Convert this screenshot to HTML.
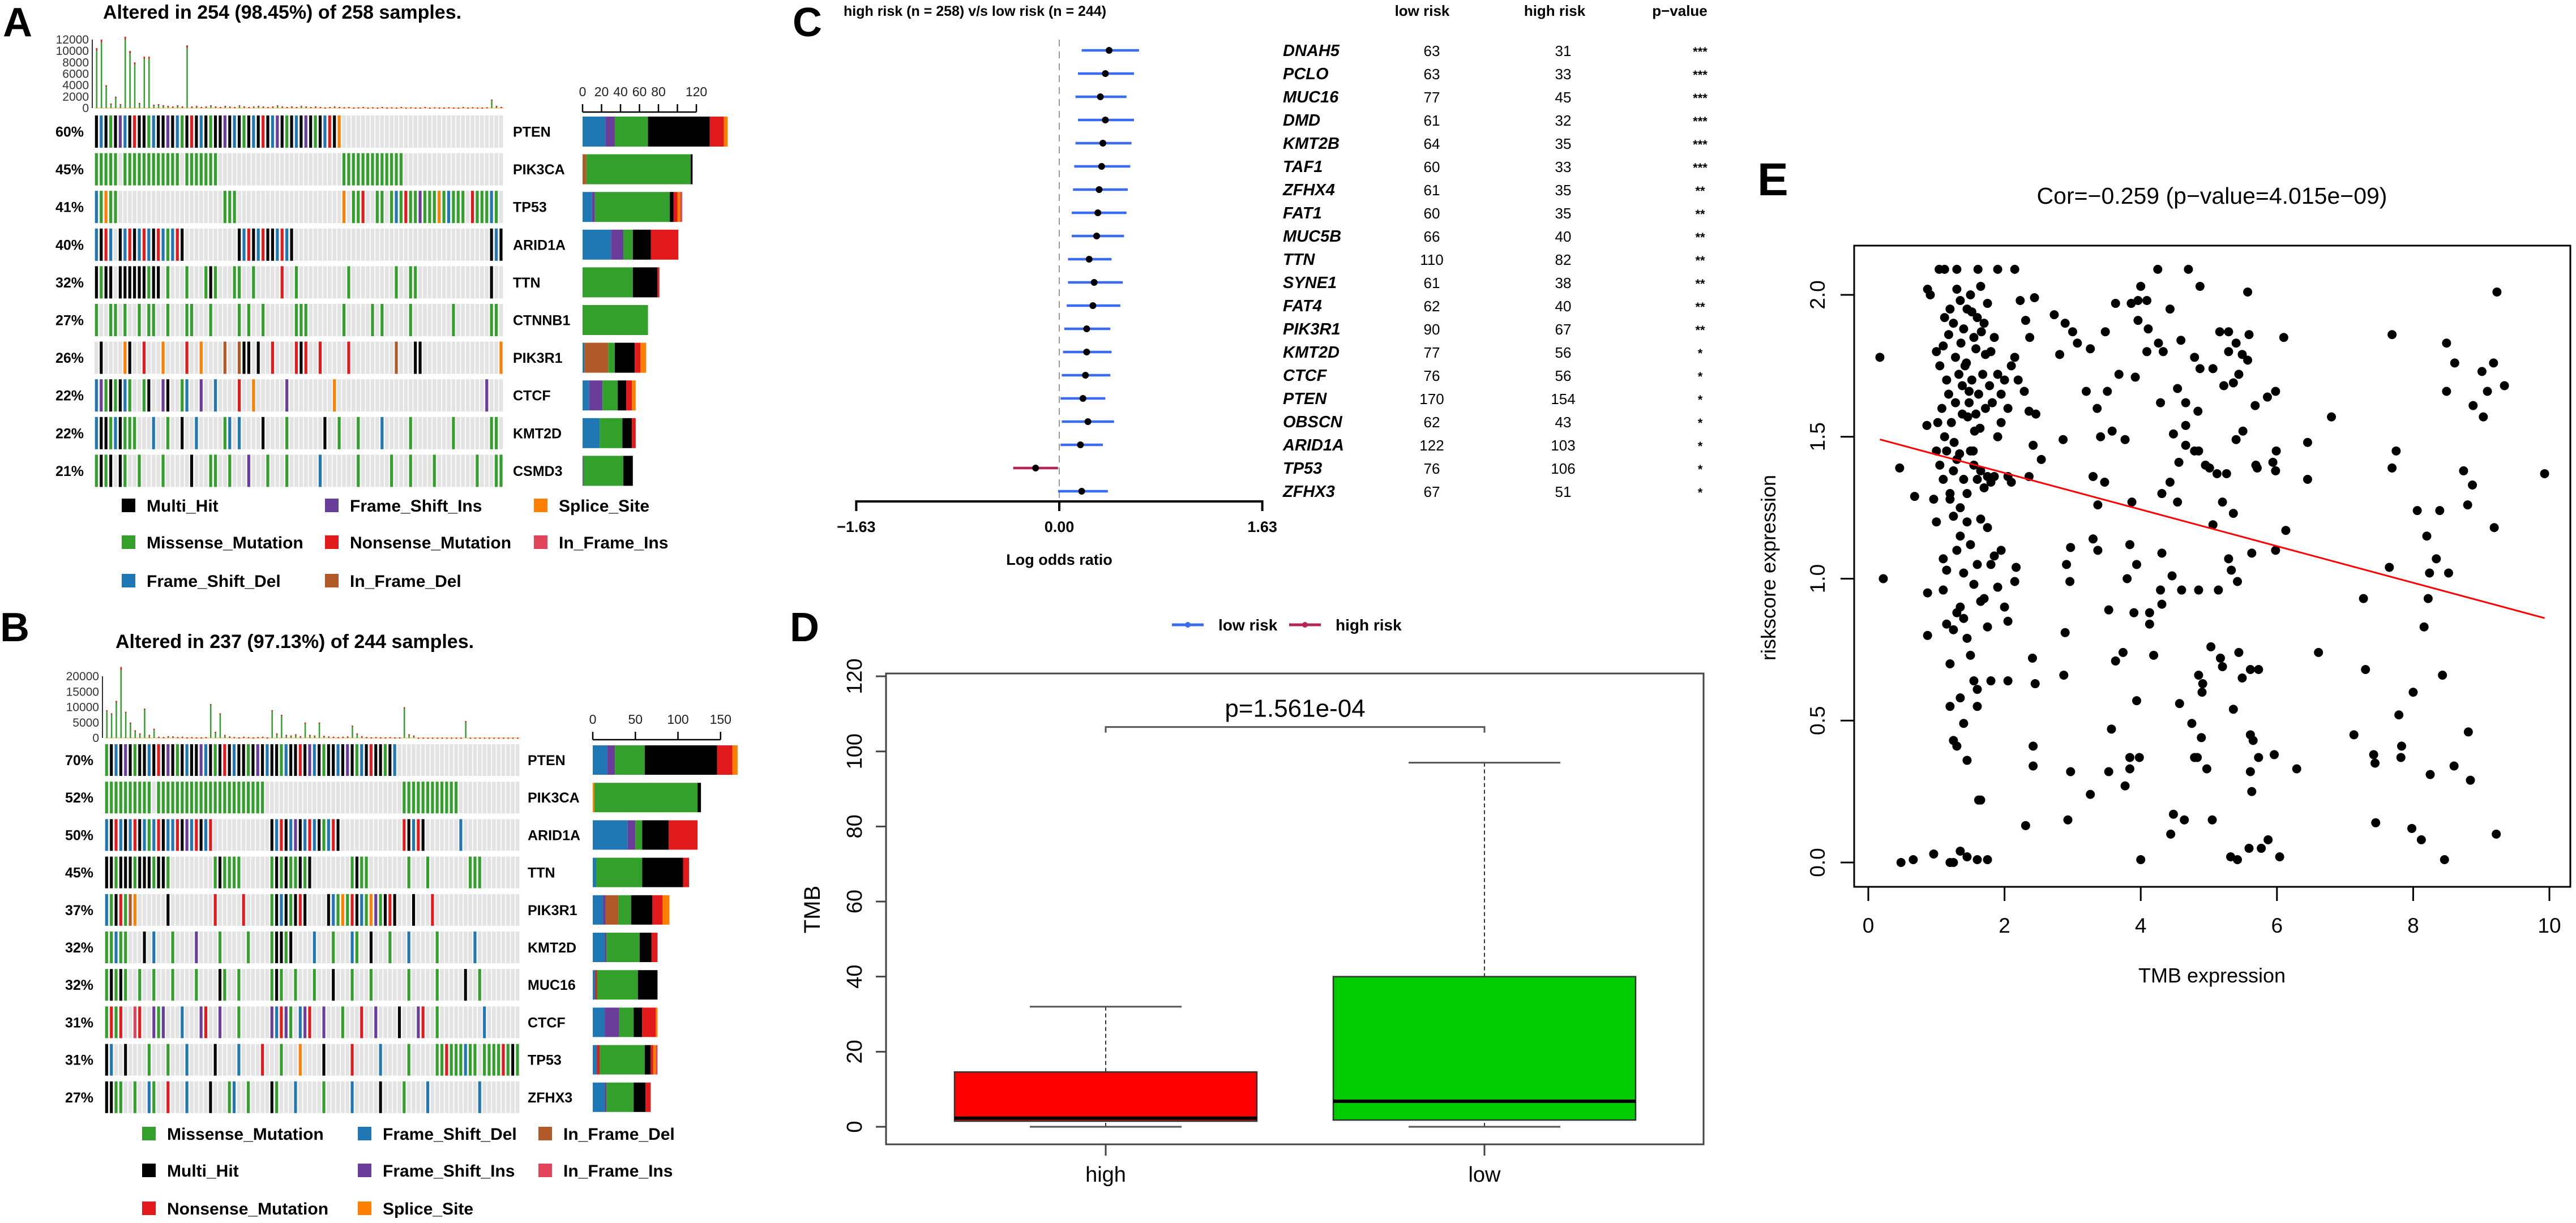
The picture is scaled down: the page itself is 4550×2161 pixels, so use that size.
<!DOCTYPE html>
<html><head><meta charset="utf-8">
<style>
html,body{margin:0;padding:0;background:#fff;}
svg{display:block;font-family:"Liberation Sans",Arial,sans-serif;}
.b{font-weight:bold}
</style></head>
<body>
<svg id="fig" width="4550" height="2161" viewBox="0 0 4550 2161" xmlns="http://www.w3.org/2000/svg">
<rect width="4550" height="2161" fill="#fff"/>
<g id="pA">
  <text x="5" y="64" font-size="72" class="b">A</text>
  <text x="182" y="33" font-size="34" class="b">Altered in 254 (98.45%) of 258 samples.</text>
</g>
<g id="pB">
  <text x="0" y="1133" font-size="72" class="b">B</text>
  <text x="204" y="1145" font-size="34" class="b">Altered in 237 (97.13%) of 244 samples.</text>
</g>
<g id="pC">
  <text x="1400" y="64" font-size="72" class="b">C</text>
  <text x="1490" y="28" font-size="25" class="b">high risk (n = 258) v/s low risk (n = 244)</text>
  <text x="2512" y="28" font-size="26" class="b" text-anchor="middle">low risk</text>
  <text x="2746" y="28" font-size="26" class="b" text-anchor="middle">high risk</text>
  <text x="2967" y="28" font-size="26" class="b" text-anchor="middle">p−value</text>
  <text x="1871" y="998" font-size="27" class="b" text-anchor="middle">Log odds ratio</text>
</g>
<g id="pD">
  <text x="1395" y="1133" font-size="72" class="b">D</text>
  <text x="1448" y="1607" font-size="40" text-anchor="middle" transform="rotate(-90 1448 1607)">TMB</text>
</g>
<g id="pE">
  <text x="3104" y="345" font-size="82" class="b">E</text>
  <text x="3907" y="360" font-size="41" text-anchor="middle">Cor=−0.259 (p−value=4.015e−09)</text>
  <text x="3907" y="1736" font-size="36" text-anchor="middle">TMB expression</text>
  <text x="3136" y="1003" font-size="36" text-anchor="middle" transform="rotate(-90 3136 1003)">riskscore expression</text>
</g>
</svg>
<script>
const NS='http://www.w3.org/2000/svg';
const svg=document.getElementById('fig');
function mk(parent,tag,attrs){const e=document.createElementNS(NS,tag);for(const k in attrs)e.setAttribute(k,attrs[k]);parent.appendChild(e);return e;}
const COL={g:'#33A02C',k:'#000000',b:'#1F78B4',p:'#6A3D9A',r:'#E31A1C',o:'#FF7F00',n:'#B15928',i:'#E0435A'};

/* ---------- Panel A data ---------- */
const genesA=['PTEN','PIK3CA','TP53','ARID1A','TTN','CTNNB1','PIK3R1','CTCF','KMT2D','CSMD3'];
const pctA=['60%','45%','41%','40%','32%','27%','26%','22%','22%','21%'];
const onA=[
 [[0,"kbkgkpbkrkkgbkkpkbgkrkbkgkkpkbkgkbkrkbpkgkbkpkgkbrko"]],
 [[0,"ggggg.gggggggggggg.ggggggg"],[52,"ggggggggggggg"]],
 [[0,"bgogg"],[27,"ggg"],[52,"o.ggr..gg.gbgrggpgggogbggg.rgggbg"]],
 [[0,"bkrb.kbrkbrbkrbgbrk"],[30,"kbrkbrkkbrbk"],[83,"kbk"]],
 [[0,"kgkk.kkkkkkgkk"],[15,"g"],[19,"g"],[23,"gkg"],[29,"gg"],[33,"g"],[39,"r"],[42,"g"],[53,"g"],[63,"g"],[66,"gg"],[83,"k"]],
 [[0,"g..gg.g"],[9,"g.gg"],[15,"g"],[19,"gg"],[24,"g"],[30,"g.g"],[35,"g"],[42,"ggg"],[52,"g"],[58,"g.g"],[66,"g"],[75,"g"],[83,"gg"]],
 [[1,"k"],[6,"ok"],[10,"r"],[14,"o"],[19,"r"],[22,"o"],[27,"n"],[30,"nkk"],[34,"k"],[37,"r"],[42,"rkr"],[47,"r"],[53,"r"],[63,"n"],[67,"kk"],[85,"o"]],
 [[0,"bpgkgkbg"],[10,"gk"],[14,"pk"],[18,"gb"],[22,"p"],[25,"b"],[30,"r"],[33,"o"],[40,"p"],[50,"o"],[82,"p"]],
 [[0,"bkkgbkggg"],[12,"b"],[15,"g"],[18,"k"],[21,"b"],[27,"gb"],[30,"b"],[35,"k"],[40,"g"],[48,"k"],[51,"g"],[55,"g"],[60,"b"],[66,"g"],[75,"g"],[83,"gg"]],
 [[0,"gkgk.kg"],[9,"g"],[14,"g"],[20,"k"],[24,"gg"],[28,"g"],[32,"p"],[36,"g"],[40,"g"],[47,"b"],[55,"g"],[62,"g"],[66,"g"],[71,"g"],[80,"g"],[84,"gg"]]
];
const stackA=[
 [['b',24],['p',10],['g',35],['k',65],['r',15],['o',4]],
 [['n',4],['g',110],['k',2]],
 [['b',10],['p',3],['g',79],['k',4],['r',4],['o',3],['i',2]],
 [['b',30],['p',13],['g',10],['k',19],['r',29]],
 [['g',53],['k',26],['r',2]],
 [['g',69]],
 [['b',2],['n',25],['g',7],['k',21],['r',6],['o',6]],
 [['b',7],['p',14],['g',16],['k',9],['r',6],['o',4]],
 [['b',18],['g',24],['k',10],['r',4]],
 [['p',1],['g',42],['k',10]]
];
const topA=[10500,12000,4000,800,2000,700,12500,10000,8000,900,9000,9000,600,700,500,400,300,500,300,11000,
 300,400,200,300,500,300,200,400,300,200,500,300,200,300,400,300,200,300,500,300,
 200,300,200,400,300,200,300,200,100,200,300,200,150,200,100,150,200,100,150,100,
 200,100,150,100,200,100,150,100,100,200,100,150,100,100,150,100,100,200,100,150,
 100,100,150,1500,400,200];
const topTicksA=[0,2000,4000,6000,8000,10000,12000];
const barTicksA=[0,20,40,60,80,100,120];
const barLabelsA=['0','20','40','60','80','','120'];

/* ---------- Panel B data ---------- */
const genesB=['PTEN','PIK3CA','ARID1A','TTN','PIK3R1','KMT2D','MUC16','CTCF','TP53','ZFHX3'];
const pctB=['70%','52%','50%','45%','37%','32%','32%','31%','31%','27%'];
const onB=[
 [[0,"gkbkpkgkkbkrkpkgkbkkpbkgkrkbkkgkpkbkkgbkkrkpbkgkkbkpkgbkrkkgkb"]],
 [[0,"gggggggggg.ggggggggggggggggggggggg"],[63,"gggggggggggg"]],
 [[0,"bkrbkbrkbgbrkbbrkpbrkbr"],[35,"kbrkbpkbrbkgbrk"],[63,"rkbrk"],[75,"b"]],
 [[0,"kkgkkkgkkkgkkg"],[23,"gkgggg"],[35,"gkgkggkgk"],[52,"gkgg"],[64,"g"],[68,"g"],[77,"ggg"]],
 [[0,"bgkrgno"],[13,"k"],[23,"r"],[29,"r"],[35,"gkbkgkrk"],[47,"kbgogrkbgopgkrk"],[65,"k"],[69,"r"]],
 [[0,"ggbgg"],[8,"k"],[10,"b"],[14,"g"],[19,"p"],[24,"g"],[30,"g"],[35,"gkkgk"],[44,"b"],[48,"g"],[52,"bg"],[56,"k"],[60,"g"],[64,"b"],[70,"g"],[78,"b"]],
 [[0,"gkgkg"],[7,"g"],[10,"g"],[14,"g"],[19,"g"],[24,"kg"],[28,"g"],[35,"gkg"],[40,"g"],[44,"g"],[48,"k"],[52,"g"],[56,"g"],[64,"g"],[70,"g"],[76,"k"],[79,"g"]],
 [[0,"grgr"],[6,"ir"],[10,"pgp"],[16,"b"],[20,"pr"],[24,"p"],[28,"g"],[35,"pbrpg"],[41,"bpr"],[46,"p"],[50,"g"],[54,"r"],[57,"p"],[62,"k"],[66,"pr"],[70,"g"],[80,"b"]],
 [[0,"kb"],[4,"k"],[9,"g"],[13,"g"],[17,"b"],[23,"k"],[28,"b"],[33,"r"],[37,"g"],[41,"o"],[46,"k"],[52,"r"],[58,"b"],[64,"g"],[70,"ggrgggbgg.ggggrgkgg"]],
 [[0,"kkgg"],[6,"g"],[9,"bg"],[13,"r"],[17,"b"],[22,"k"],[26,"gb"],[30,"g"],[35,"kg"],[40,"b"],[46,"g"],[52,"b"],[58,"k"],[63,"g"],[68,"b"],[79,"b"]]
];
const stackB=[
 [['b',17],['p',9],['g',35],['k',85],['r',18],['o',6]],
 [['o',2],['g',121],['k',4]],
 [['b',41],['p',9],['g',8],['k',31],['r',34]],
 [['b',4],['g',54],['k',48],['r',7]],
 [['b',12],['p',3],['n',15],['g',15],['k',25],['r',12],['o',8]],
 [['b',14],['p',2],['g',39],['k',14],['r',7]],
 [['b',3],['r',2],['g',48],['k',23]],
 [['b',14],['p',17],['g',17],['k',10],['r',16],['o',2]],
 [['b',5],['r',3],['g',53],['k',7],['r',3],['o',3],['i',2]],
 [['b',14],['p',2],['g',32],['k',14],['r',6]]
];
const topB=[9000,8000,12000,23000,8500,5000,2500,1500,9500,1000,3000,400,300,600,500,300,400,200,300,200,
 200,300,11000,2000,8000,1000,500,300,200,400,300,200,300,400,200,9000,1500,7500,1000,800,
 1200,600,5000,1000,800,5000,700,500,400,300,400,500,4000,1500,600,300,200,300,200,200,
 300,200,200,10000,1200,800,100,100,100,100,100,100,100,100,100,100,5500,100,100,100,
 100,100,100,100,100,100,100,100];
const topTicksB=[0,5000,10000,15000,20000];
const barTicksB=[0,50,100,150];
const barLabelsB=['0','50','100','150'];

/* ---------- Panel C data ---------- */
const genesC=['DNAH5','PCLO','MUC16','DMD','KMT2B','TAF1','ZFHX4','FAT1','MUC5B','TTN','SYNE1','FAT4','PIK3R1','KMT2D','CTCF','PTEN','OBSCN','ARID1A','TP53','ZFHX3'];
const lowC=[63,63,77,61,64,60,61,60,66,110,61,62,90,77,76,170,62,122,76,67];
const highC=[31,33,45,32,35,33,35,35,40,82,38,40,67,56,56,154,43,103,106,51];
const orC=[0.40,0.37,0.33,0.37,0.35,0.34,0.32,0.31,0.30,0.24,0.28,0.27,0.22,0.22,0.21,0.19,0.23,0.17,-0.19,0.18];
const loC=[0.18,0.15,0.13,0.15,0.13,0.12,0.11,0.10,0.10,0.07,0.07,0.06,0.04,0.03,0.02,0.01,0.02,0.01,-0.37,-0.01];
const hiC=[0.64,0.60,0.54,0.60,0.58,0.57,0.55,0.54,0.52,0.42,0.51,0.49,0.41,0.42,0.41,0.37,0.44,0.35,-0.01,0.39];
const sigC=['***','***','***','***','***','***','**','**','**','**','**','**','**','*','*','*','*','*','*','*'];
const ticksC=[-1.63,0,1.63];
const tickLabelsC=['−1.63','0.00','1.63'];

/* ---------- Panel D data ---------- */
const groupsD=['high','low'];
const minD=[0,0];
const q1D=[1.5,1.8];
const medD=[2.3,6.8];
const q3D=[14.6,40];
const maxD=[32,97];
const colD=['#ff0000','#00cc00'];
const ticksD=[0,20,40,60,80,100,120];
const pTextD='p=1.561e-04';
const pBracketD=106.5;

/* ---------- Panel E data ---------- */
const xsE=[0.17,0.22,0.46,0.68,0.48,0.66,0.96,0.87,0.87,0.96,0.86,0.87,0.91,1.04,1.12,1.3,1.61,1.9,2.15,
1.0,1.05,1.1,1.15,1.2,1.25,1.3,1.35,1.4,1.45,1.5,1.55,1.6,1.65,1.7,1.75,1.8,1.85,
1.02,1.08,1.12,1.18,1.22,1.28,1.33,1.38,1.42,1.48,1.52,1.58,1.62,1.68,1.72,1.78,1.82,1.9,1.95,2.0,2.05,2.1,2.15,2.2,
1.0,1.05,1.1,1.15,1.2,1.25,1.3,1.35,1.4,1.45,1.5,1.55,1.6,1.65,1.7,1.75,1.8,1.85,1.9,1.95,2.05,2.1,
1.0,1.1,1.15,1.2,1.25,1.3,1.35,1.4,1.45,1.5,1.55,1.6,1.65,1.7,1.75,1.8,1.85,1.9,1.95,2.05,2.15,
1.1,1.15,1.2,1.25,1.3,1.35,1.4,1.45,1.5,1.55,1.6,1.65,1.75,1.8,2.0,2.05,
1.2,1.25,1.3,1.4,1.45,1.35,1.6,1.65,1.62,
1.2,1.25,1.35,1.45,1.6,1.75,
1.12,1.18,1.28,1.36,1.44,1.52,1.58,1.66,1.72,1.38,1.48,1.56,1.26,1.34,1.46,1.54,1.64,
2.23,2.31,2.44,2.37,2.29,2.36,2.42,2.46,2.54,2.36,2.17,2.41,2.45,2.42,2.42,2.31,2.73,2.89,3.0,3.07,2.81,2.86,3.26,3.2,3.36,3.48,3.41,3.51,3.58,3.68,3.77,3.63,3.86,3.96,4.0,4.09,4.11,3.96,4.09,3.92,4.25,4.26,4.33,4.43,4.29,4.59,4.7,4.87,4.54,4.66,4.84,4.79,4.87,5.06,4.66,4.48,4.56,4.66,4.79,4.85,4.95,5.01,5.12,5.26,5.16,5.29,5.29,5.4,5.49,5.57,5.22,5.36,5.44,5.57,5.59,5.68,5.86,5.98,6.1,5.4,5.5,5.69,5.71,5.94,5.99,5.98,6.45,6.45,6.8,6.13,5.98,5.63,5.2,5.36,5.06,5.29,5.33,5.14,5.42,4.54,4.31,4.43,3.87,3.37,3.47,3.3,3.3,3.37,2.97,2.91,2.96,3.84,3.94,3.8,4.13,4.13,4.31,4.46,4.6,4.29,4.31,3.9,4.19,3.74,3.63,3.53,2.89,2.87,4.85,4.85,4.91,4.9,5.03,5.17,5.2,5.44,5.49,5.61,5.73,6.61,4.57,3.94,3.57,4.75,4.89,5.36,5.61,5.65,4.79,4.83,3.84,3.98,3.84,4.97,5.61,5.73,5.96,6.29,2.97,3.53,3.77,3.26,5.63,2.93,4.48,4.64,4.44,5.05,4.0,5.32,5.42,5.59,5.77,5.87,6.04,
7.69,7.75,7.69,7.65,7.27,7.3,7.79,7.13,7.42,7.44,7.83,7.82,7.45,7.98,8.12,8.0,8.06,8.2,8.24,8.16,8.22,8.34,8.39,8.52,8.43,8.25,8.6,8.46,8.49,8.61,8.49,8.74,8.8,8.87,8.81,8.84,8.88,9.01,9.03,9.09,9.18,9.23,9.34,9.19,9.22,9.93];
const ysE=[1.78,1.0,1.39,1.29,0.0,0.01,0.03,0.80,0.95,1.28,1.54,2.02,2.0,2.09,2.09,2.09,2.09,2.09,2.09,
1.8,1.75,1.82,1.7,1.95,1.9,2.02,1.98,1.88,1.95,2.0,1.85,1.92,2.03,1.9,1.97,1.8,1.85,
1.55,1.6,1.5,1.65,1.55,1.62,1.72,1.68,1.75,1.62,1.7,1.58,1.65,1.72,1.6,1.68,1.62,1.72,1.65,1.7,1.6,1.75,1.78,1.7,
1.45,1.4,1.35,1.45,1.3,1.38,1.42,1.25,1.35,1.3,1.45,1.4,1.35,1.38,1.32,1.36,1.34,1.36,1.5,1.55,1.36,1.34,
1.2,1.07,1.03,1.28,1.22,1.1,1.15,1.02,1.2,1.12,0.98,1.05,1.21,0.93,1.18,1.05,1.08,0.97,1.1,0.85,0.99,
0.96,0.84,0.7,0.82,0.88,0.9,0.86,0.79,0.73,0.64,0.61,0.92,0.83,0.64,0.9,0.64,
0.55,0.43,0.41,0.49,0.36,0.58,0.55,0.22,0.22,
0.0,0.0,0.04,0.02,0.01,0.01,
1.92,1.86,1.78,1.83,1.76,1.94,1.81,1.87,1.79,1.58,1.66,1.52,1.48,1.44,1.57,1.45,1.53,
1.98,1.91,1.99,1.85,1.66,1.59,1.47,1.58,1.42,1.36,1.04,0.72,0.63,0.41,0.34,0.13,1.93,1.9,1.87,1.83,1.79,1.49,1.81,1.66,1.6,1.87,1.5,1.66,1.52,1.72,1.49,1.97,1.97,1.98,2.03,1.98,1.88,1.91,1.8,1.71,2.09,1.83,1.8,1.95,1.62,1.84,2.09,2.03,1.67,1.62,1.59,1.78,1.74,1.74,1.54,1.51,1.41,1.47,1.45,1.45,1.4,1.39,1.37,1.37,1.87,1.87,1.8,1.83,1.79,1.77,1.68,1.69,1.72,2.01,1.86,1.61,1.64,1.66,1.85,1.49,1.52,1.4,1.39,1.41,1.45,1.38,1.48,1.35,1.57,1.17,1.1,1.09,1.27,1.23,1.19,1.07,1.03,0.96,0.99,1.27,1.3,1.34,1.27,1.26,1.34,1.36,1.14,1.1,1.11,1.05,0.99,1.12,1.05,1.0,0.88,0.84,1.09,1.01,0.96,0.96,0.91,0.88,0.73,0.74,0.71,0.89,0.81,0.66,0.96,0.66,0.63,0.6,0.76,0.72,0.69,0.74,0.65,0.68,0.68,0.74,0.56,0.57,0.47,0.49,0.44,0.54,0.45,0.43,0.37,0.37,0.37,0.37,0.33,0.33,0.32,0.37,0.38,0.33,0.32,0.32,0.27,0.24,0.25,0.15,0.17,0.15,0.1,0.15,0.01,0.02,0.01,0.05,0.05,0.08,0.02,
1.86,1.45,1.39,1.04,0.93,0.68,0.52,0.45,0.38,0.35,0.41,0.37,0.14,0.12,0.08,0.6,1.24,1.15,1.02,0.83,0.93,1.07,1.24,1.02,0.66,0.31,0.34,0.01,1.83,1.76,1.66,1.38,1.26,1.33,0.46,0.29,1.61,1.73,1.57,1.66,1.76,2.01,1.68,1.18,0.1,1.37];
const fitInterceptE=1.5016;
const fitSlopeE=-0.0645;
const xTicksE=[0,2,4,6,8,10];
const yTicksE=[0,0.5,1,1.5,2];
const yTickLabelsE=['0.0','0.5','1.0','1.5','2.0'];

/* ---------- oncoplot drawing ---------- */
function buildRow(segs,N){const a=new Array(N).fill('.');segs.forEach(s=>{for(let j=0;j<s[1].length&&s[0]+j<N;j++)a[s[0]+j]=s[1][j];});return a;}
function drawOnco(cfg){
  const g=mk(svg,'g',{});
  
  
  const N=cfg.N, cw=(cfg.x1-cfg.x0)/N;
  const tmax=cfg.topTicks[cfg.topTicks.length-1];
  const ty=v=>cfg.top0-(cfg.top0-cfg.topMax)*v/tmax;
  mk(g,'line',{x1:cfg.x0-4,y1:ty(0),x2:cfg.x0-4,y2:ty(tmax),stroke:'#333','stroke-width':2});
  cfg.topTicks.forEach(t=>{
    const tl=mk(g,'text',{x:cfg.x0-10,y:ty(t)+7,'font-size':21,'text-anchor':'end',fill:'#333'});
    
    
    tl.textContent=String(t);
  });
  mk(g,'line',{x1:cfg.x0,y1:cfg.top0,x2:cfg.x1,y2:cfg.top0,stroke:'#F5D4A0','stroke-width':2});
  cfg.top.forEach((v,j)=>{
    const x=cfg.x0+j*cw+cw*0.3, h=cfg.top0-ty(v);
    const bar=mk(g,'rect',{x:x,y:ty(v),width:cw*0.3,height:h,fill:COL.g});
    
    
    mk(g,'rect',{x:x,y:ty(v),width:cw*0.3,height:Math.max(2,h*0.04),fill:COL.r});
  });
  cfg.genes.forEach((gene,i)=>{
    const y=cfg.rowTop+i*cfg.pitch;
    const row=buildRow(cfg.rows[i],N);
    const bg=mk(g,'rect',{x:cfg.x0,y:y,width:cfg.x1-cfg.x0,height:cfg.rowH,fill:'#ffffff'});
    
    
    row.forEach((c,j)=>{
      const x=cfg.x0+j*cw;
      const cell=mk(g,'rect',{x:x,y:y,width:cw-1.6,height:cfg.rowH,fill:'#e3e3e3'});
      
      
      if(c!=='.'){
        const m=mk(g,'rect',{x:x+cw*0.1,y:y,width:cw*0.6,height:cfg.rowH,fill:COL[c]});
        
        
      }
    });
    const pl=mk(g,'text',{x:cfg.pctX,y:y+cfg.rowH/2+9,'font-size':25,'font-weight':'bold','text-anchor':'end'});
    
    
    pl.textContent=cfg.pct[i];
    const gl=mk(g,'text',{x:cfg.geneX,y:y+cfg.rowH/2+9,'font-size':25,'font-weight':'bold'});
    
    
    gl.textContent=gene;
    let cx=cfg.barX;
    cfg.stack[i].forEach(s=>{
      const w=s[1]*cfg.barScale;
      const sb=mk(g,'rect',{x:cx,y:y+2,width:w,height:cfg.rowH-4,fill:COL[s[0]]});
      
      
      cx+=w;
    });
  });
  const bt=cfg.barTicks;
  mk(g,'line',{x1:cfg.barX,y1:cfg.barAxisY,x2:cfg.barX+bt[bt.length-1]*cfg.barScale,y2:cfg.barAxisY,stroke:'#000','stroke-width':2.5});
  bt.forEach((t,k)=>{
    const x=cfg.barX+t*cfg.barScale;
    mk(g,'line',{x1:x,y1:cfg.barAxisY,x2:x,y2:cfg.barAxisY-14,stroke:'#000','stroke-width':2.5});
    const tl=mk(g,'text',{x:x,y:cfg.barAxisY-28,'font-size':23,'text-anchor':'middle',fill:'#222'});
    
    
    tl.textContent=cfg.barLabels[k];
  });
  cfg.legend.forEach(L=>{
    const sq=mk(g,'rect',{x:L[1],y:L[2]-12,width:24,height:24,fill:COL[L[0]]});
    
    
    const lt=mk(g,'text',{x:L[1]+44,y:L[2]+11,'font-size':30,'font-weight':'bold'});
    
    
    lt.textContent=L[3];
  });
}
drawOnco({name:'oncoplot-a',N:86,x0:167,x1:890,top0:191,topMax:70,topTicks:topTicksA,top:topA,genes:genesA,pct:pctA,rows:onA,stack:stackA,
  rowTop:204,pitch:66.6,rowH:57,pctX:148,geneX:906,barX:1029,barScale:1.675,barTicks:barTicksA,barLabels:barLabelsA,barAxisY:198,
  legend:[['k',215,893,'Multi_Hit'],['p',574,893,'Frame_Shift_Ins'],['o',943,893,'Splice_Site'],
          ['g',215,958,'Missense_Mutation'],['r',574,958,'Nonsense_Mutation'],['i',943,958,'In_Frame_Ins'],
          ['b',215,1026,'Frame_Shift_Del'],['n',574,1026,'In_Frame_Del']]});
drawOnco({name:'oncoplot-b',N:88,x0:185,x1:919,top0:1304,topMax:1195,topTicks:topTicksB,top:topB,genes:genesB,pct:pctB,rows:onB,stack:stackB,
  rowTop:1315,pitch:66.2,rowH:56,pctX:165,geneX:932,barX:1047,barScale:1.505,barTicks:barTicksB,barLabels:barLabelsB,barAxisY:1307,
  legend:[['g',251,2003,'Missense_Mutation'],['b',632,2003,'Frame_Shift_Del'],['n',951,2003,'In_Frame_Del'],
          ['k',251,2068,'Multi_Hit'],['p',632,2068,'Frame_Shift_Ins'],['i',951,2068,'In_Frame_Ins'],
          ['r',251,2135,'Nonsense_Mutation'],['o',632,2135,'Splice_Site']]});

/* ---------- Panel C forest ---------- */
(function(){
  const g=mk(svg,'g',{});
  
  
  const X0=1871, S=220, ax=v=>X0+v*S, ry=i=>89+i*41;
  mk(g,'line',{x1:X0,y1:70,x2:X0,y2:886,stroke:'#999','stroke-width':2,'stroke-dasharray':'12,9'});
  genesC.forEach((gn,i)=>{
    const y=ry(i), c=orC[i]>=0?'#3B6CF0':'#B52458';
    const ci=mk(g,'line',{x1:ax(loC[i]),y1:y,x2:ax(hiC[i]),y2:y,stroke:c,'stroke-width':4.5});
    
    
    const pt=mk(g,'circle',{cx:ax(orC[i]),cy:y,r:6,fill:'#000'});
    
    
    const t1=mk(g,'text',{x:2266,y:y+10,'font-size':29,'font-weight':'bold','font-style':'italic'});
    
    
    t1.textContent=gn;
    const t2=mk(g,'text',{x:2529,y:y+10,'font-size':26,'text-anchor':'middle'});
    
    
    t2.textContent=lowC[i];
    const t3=mk(g,'text',{x:2761,y:y+10,'font-size':26,'text-anchor':'middle'});
    
    
    t3.textContent=highC[i];
    const t4=mk(g,'text',{x:3003,y:y+10,'font-size':22,'font-weight':'bold','text-anchor':'middle'});
    
    
    t4.textContent=sigC[i];
  });
  mk(g,'line',{x1:ax(ticksC[0]),y1:886,x2:ax(ticksC[ticksC.length-1]),y2:886,stroke:'#000','stroke-width':4});
  ticksC.forEach((t,k)=>{
    mk(g,'line',{x1:ax(t),y1:884,x2:ax(t),y2:903,stroke:'#000','stroke-width':4});
    const tl=mk(g,'text',{x:ax(t),y:940,'font-size':27,'font-weight':'bold','text-anchor':'middle'});
    
    
    tl.textContent=tickLabelsC[k];
  });
  [['low risk','#3B6CF0',2070],['high risk','#B52458',2277]].forEach(L=>{
    mk(g,'line',{x1:L[2],y1:1104,x2:L[2]+56,y2:1104,stroke:L[1],'stroke-width':5});
    mk(g,'circle',{cx:L[2]+28,cy:1104,r:5,fill:L[1]});
    const lt=mk(g,'text',{x:L[2]+82,y:1114,'font-size':28,'font-weight':'bold'});
    
    
    lt.textContent=L[0];
  });
})();

/* ---------- Panel D boxplot ---------- */
(function(){
  const g=mk(svg,'g',{});
  
  
  const yv=v=>1991-v*6.633;
  const cx=[1953,2622], hw=267, cw=134;
  const frame=mk(g,'rect',{x:1565,y:1190,width:1444,height:832,fill:'none',stroke:'#444','stroke-width':3});
  
  
  ticksD.forEach(t=>{
    mk(g,'line',{x1:1565,y1:yv(t),x2:1547,y2:yv(t),stroke:'#444','stroke-width':3});
    const tl=mk(g,'text',{x:1522,y:yv(t),'font-size':38,'text-anchor':'middle',transform:'rotate(-90 1522 '+yv(t)+')'});
    
    
    tl.textContent=t;
  });
  groupsD.forEach((gr,i)=>{
    const x=cx[i];
    mk(g,'line',{x1:x,y1:yv(maxD[i]),x2:x,y2:yv(q3D[i]),stroke:'#333','stroke-width':2,'stroke-dasharray':'7,5'});
    mk(g,'line',{x1:x,y1:yv(minD[i]),x2:x,y2:yv(q1D[i]),stroke:'#333','stroke-width':2,'stroke-dasharray':'7,5'});
    mk(g,'line',{x1:x-cw,y1:yv(maxD[i]),x2:x+cw,y2:yv(maxD[i]),stroke:'#555','stroke-width':3});
    mk(g,'line',{x1:x-cw,y1:yv(minD[i]),x2:x+cw,y2:yv(minD[i]),stroke:'#555','stroke-width':3});
    const bx=mk(g,'rect',{x:x-hw,y:yv(q3D[i]),width:2*hw,height:yv(q1D[i])-yv(q3D[i]),fill:colD[i],stroke:'#333','stroke-width':2.5});
    
    
    mk(g,'line',{x1:x-hw,y1:yv(medD[i]),x2:x+hw,y2:yv(medD[i]),stroke:'#000','stroke-width':6});
    mk(g,'line',{x1:x,y1:2022,x2:x,y2:2042,stroke:'#444','stroke-width':3});
    const xl=mk(g,'text',{x:x,y:2088,'font-size':38,'text-anchor':'middle'});
    
    
    xl.textContent=gr;
  });
  const by=yv(pBracketD);
  mk(g,'polyline',{points:cx[0]+','+(by+10)+' '+cx[0]+','+by+' '+cx[1]+','+by+' '+cx[1]+','+(by+10),fill:'none',stroke:'#555','stroke-width':3});
  const pt=mk(g,'text',{x:(cx[0]+cx[1])/2,y:by-18,'font-size':44,'text-anchor':'middle'});
  
  
  pt.textContent=pTextD;
})();

/* ---------- Panel E scatter ---------- */
(function(){
  const g=mk(svg,'g',{});
  
  
  const sx=v=>3300+v*120.3, sy=v=>1524-v*501.5;
  const frame=mk(g,'rect',{x:3275,y:434,width:1265,height:1133,fill:'none',stroke:'#000','stroke-width':3});
  
  
  xTicksE.forEach(t=>{
    mk(g,'line',{x1:sx(t),y1:1567,x2:sx(t),y2:1592,stroke:'#000','stroke-width':3});
    const tl=mk(g,'text',{x:sx(t),y:1648,'font-size':37,'text-anchor':'middle'});
    
    
    tl.textContent=t;
  });
  yTicksE.forEach((t,k)=>{
    mk(g,'line',{x1:3275,y1:sy(t),x2:3251,y2:sy(t),stroke:'#000','stroke-width':3});
    const tl=mk(g,'text',{x:3223,y:sy(t),'font-size':37,'text-anchor':'middle',transform:'rotate(-90 3223 '+sy(t)+')'});
    
    
    tl.textContent=yTickLabelsE[k];
  });
  xsE.forEach((x,i)=>{
    const d=mk(g,'circle',{cx:sx(x),cy:sy(ysE[i]),r:8,fill:'#000'});
    
    
  });
  const xmin=Math.min(...xsE), xmax=Math.max(...xsE);
  const fl=mk(g,'line',{x1:sx(xmin),y1:sy(fitInterceptE+fitSlopeE*xmin),x2:sx(xmax),y2:sy(fitInterceptE+fitSlopeE*xmax),stroke:'#ff0000','stroke-width':3});
  
  
})();
</script>
</body></html>
